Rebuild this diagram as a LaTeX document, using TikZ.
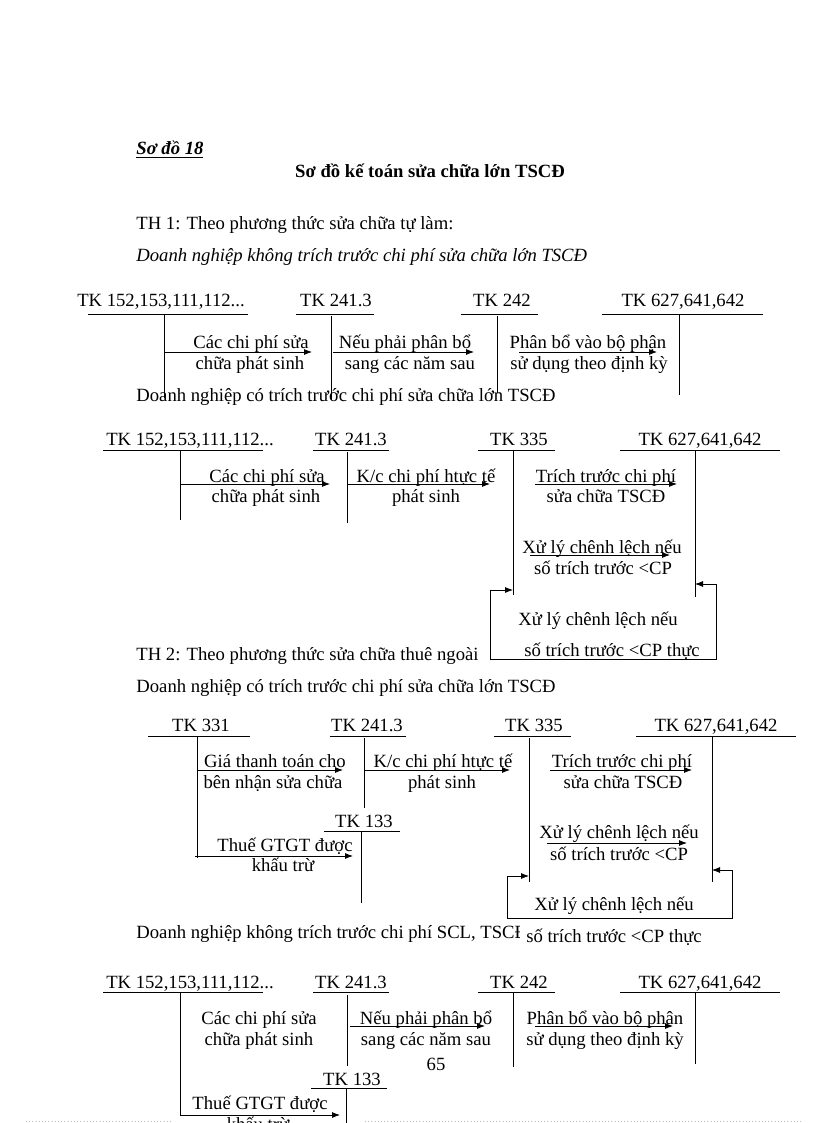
\documentclass[tikz,border=0pt]{standalone}
\usepackage{fontspec}
\setmainfont{Liberation Serif}
\usetikzlibrary{arrows.meta}

\begin{document}
\fontsize{14}{16}\selectfont
\begin{tikzpicture}[x=0.75pt,y=-0.75pt,line width=0.6pt,
    >={Latex[length=6pt,width=4.5pt]},
    lbl/.style={inner sep=0pt,anchor=base},
    lblw/.style={inner sep=0pt,anchor=base west}]
    \path[use as bounding box,fill=white] (0,0) rectangle (816,1123);
    \clip (0,0) rectangle (816,1123);

    % heading
    \node[lblw,font=\bfseries\itshape] (sodo) at (136,155) {\underline{Sơ đồ 18}};
    \node[lbl,font=\bfseries] (title) at (430,178) {Sơ đồ kế toán sửa chữa lớn TSCĐ};
    \node[lblw] (th1) at (136,229) {TH 1: Theo phương thức sửa chữa tự làm:};
    \node[lblw,font=\itshape] (dn1) at (136,261) {Doanh nghiệp không trích trước chi phí sửa chữa lớn TSCĐ};

    % so do 1
    \node[lbl] (tk152a) at (161,306) {TK 152,153,111,112...};
    \node[lbl] (tk2413a) at (336,306) {TK 241.3};
    \node[lbl] (tk242a) at (502,306) {TK 242};
    \node[lbl] (tk627a) at (683,306) {TK 627,641,642};
    \draw (88,314) -- (248,314) (164,314) -- (164,398);
    \draw (296,314) -- (374,314) (331,316) -- (331,400);
    \draw (461,314) -- (538,314) (497,316) -- (497,393);
    \draw (602,314) -- (763,314) (679,314) -- (679,395);
    \coordinate (a1s) at (164,352); \coordinate (a1e) at (312,352);
    \coordinate (a2s) at (333,352); \coordinate (a2e) at (474,352);
    \coordinate (a3s) at (519,352); \coordinate (a3e) at (657,352);
    \draw[->] (a1s) -- (a1e);
    \draw[->] (a2s) -- (a2e);
    \draw[->] (a3s) -- (a3e);
    \node[lbl] (cpa) at (251,348) {Các chi phí sửa};
    \node[lbl] (cpb) at (250,369) {chữa phát sinh};
    \node[lbl] (pba) at (405,348) {Nếu phải phân bổ};
    \node[lbl] (pbb) at (410,369) {sang các năm sau};
    \node[lbl] (bpa) at (588,348) {Phân bổ vào bộ phận};
    \node[lbl] (bpb) at (589,369) {sử dụng theo định kỳ};

    \node[lblw] (dn2) at (136,401) {Doanh nghiệp có trích trước chi phí sửa chữa lớn TSCĐ};

    % so do 2
    \node[lbl] (tk152b) at (190,445) {TK 152,153,111,112...};
    \node[lbl] (tk2413b) at (351,445) {TK 241.3};
    \node[lbl] (tk335b) at (519,445) {TK 335};
    \node[lbl] (tk627b) at (700,445) {TK 627,641,642};
    \draw (103,450) -- (263,450) (180,450) -- (180,520);
    \draw (313,450) -- (389,450) (347,452) -- (347,523);
    \draw (478,450) -- (555,450) (513,450) -- (513,595);
    \draw (620,450) -- (780,450) (695,450) -- (695,597);
    \coordinate (b1s) at (180,484); \coordinate (b1e) at (330,484);
    \coordinate (b2s) at (347,484); \coordinate (b2e) at (490,484);
    \coordinate (b3s) at (535,484); \coordinate (b3e) at (677,484);
    \coordinate (b4s) at (530,555); \coordinate (b4e) at (670,555);
    \draw[->] (b1s) -- (b1e);
    \draw[->] (b2s) -- (b2e);
    \draw[->] (b3s) -- (b3e);
    \draw[->] (b4s) -- (b4e);
    \node[lbl] (cpc) at (267,482) {Các chi phí sửa};
    \node[lbl] (cpd) at (266,502) {chữa phát sinh};
    \node[lbl] (kca) at (426,482) {K/c chi phí htực tế};
    \node[lbl] (kcb) at (426,502) {phát sinh};
    \node[lbl] (tta) at (606,482) {Trích trước chi phí};
    \node[lbl] (ttb) at (606,502) {sửa chữa TSCĐ};
    \node[lbl] (xla) at (602,553) {Xử lý chênh lệch nếu};
    \node[lbl] (xlb) at (603,574) {số trích trước <CP};
    \coordinate (lp2a) at (513,590); \coordinate (lp2b) at (695,584);
    \draw[<->] (lp2a) -- (490,590) -- (490,659) -- (716,659) -- (716,584) -- (lp2b);
    \node[lbl] (xlc) at (598,625) {Xử lý chênh lệch nếu};
    \node[lbl] (xld) at (612,656) {số trích trước <CP thực};

    \node[lblw] (th2) at (136,660) {TH 2: Theo phương thức sửa chữa thuê ngoài};
    \node[lblw] (dn3) at (136,692) {Doanh nghiệp có trích trước chi phí sửa chữa lớn TSCĐ};

    % so do 3
    \node[lbl] (tk331c) at (201,731) {TK 331};
    \node[lbl] (tk2413c) at (367,731) {TK 241.3};
    \node[lbl] (tk335c) at (534,731) {TK 335};
    \node[lbl] (tk627c) at (716,731) {TK 627,641,642};
    \node[lbl] (tk133c) at (364,827) {TK 133};
    \draw (148,736) -- (250,736) (197,736) -- (197,858);
    \draw (330,736) -- (406,736) (364,738) -- (364,808);
    \draw (494,736) -- (571,736) (529,738) -- (529,882);
    \draw (636,736) -- (796,736) (712,736) -- (712,882);
    \draw (324,831) -- (400,831) (361,831) -- (361,903);
    \coordinate (c1s) at (197,770); \coordinate (c1e) at (343,770);
    \coordinate (c2s) at (364,770); \coordinate (c2e) at (510,770);
    \coordinate (c3s) at (550,770); \coordinate (c3e) at (692,770);
    \coordinate (c4s) at (195,856); \coordinate (c4e) at (353,856);
    \coordinate (c5s) at (547,843); \coordinate (c5e) at (687,843);
    \draw[->] (c1s) -- (c1e);
    \draw[->] (c2s) -- (c2e);
    \draw[->] (c3s) -- (c3e);
    \draw[->] (c4s) -- (c4e);
    \draw[->] (c5s) -- (c5e);
    \node[lbl] (gta) at (275,767) {Giá thanh toán cho};
    \node[lbl] (gtb) at (273,788) {bên nhận sửa chữa};
    \node[lbl] (kcc) at (443,767) {K/c chi phí htực tế};
    \node[lbl] (kcd) at (442,788) {phát sinh};
    \node[lbl] (ttc) at (622,767) {Trích trước chi phí};
    \node[lbl] (ttd) at (623,788) {sửa chữa TSCĐ};
    \node[lbl] (vta) at (285,851) {Thuế GTGT được};
    \node[lbl] (vtb) at (283,871) {khấu trừ};
    \node[lbl] (xle) at (619,838) {Xử lý chênh lệch nếu};
    \node[lbl] (xlf) at (619,860) {số trích trước <CP};
    \coordinate (lp3a) at (529,876); \coordinate (lp3b) at (712,870);
    \draw[<->] (lp3a) -- (507,876) -- (507,918) -- (732,918) -- (732,870) -- (lp3b);
    \node[lbl] (xlg) at (614,910) {Xử lý chênh lệch nếu};

    \node[lblw] (dn4) at (136,938) {Doanh nghiệp không trích trước chi phí SCL, TSCĐ};
    \node[lbl,fill=white,inner xsep=5pt,inner ysep=3pt] (xlh) at (614,942) {số trích trước <CP thực};

    % so do 4
    \node[lbl] (tk152d) at (190,988) {TK 152,153,111,112...};
    \node[lbl] (tk2413d) at (351,988) {TK 241.3};
    \node[lbl] (tk242d) at (519,988) {TK 242};
    \node[lbl] (tk627d) at (700,988) {TK 627,641,642};
    \node[lbl] (tk133d) at (352,1085) {TK 133};
    \draw (103,992) -- (263,992) (180,992) -- (180,1115);
    \draw (313,992) -- (389,992) (347,995) -- (347,1066);
    \draw (478,992) -- (555,992) (513,992) -- (513,1067);
    \draw (620,992) -- (780,992) (695,992) -- (695,1064);
    \draw (311,1088) -- (387,1088) (346,1088) -- (346,1130);
    \coordinate (d1s) at (350,1026); \coordinate (d1e) at (485,1026);
    \coordinate (d2s) at (535,1026); \coordinate (d2e) at (673,1026);
    \coordinate (d3s) at (180,1115); \coordinate (d3e) at (340,1115);
    \draw[->] (d1s) -- (d1e);
    \draw[->] (d2s) -- (d2e);
    \draw[->] (d3s) -- (d3e);
    \node[lbl] (cpe) at (259,1024) {Các chi phí sửa};
    \node[lbl] (cpf) at (259,1045) {chữa phát sinh};
    \node[lbl] (pbc) at (426,1024) {Nếu phải phân bổ};
    \node[lbl] (pbd) at (426,1045) {sang các năm sau};
    \node[lbl] (bpc) at (605,1024) {Phân bổ vào bộ phận};
    \node[lbl] (bpd) at (605,1045) {sử dụng theo định kỳ};
    \node[lbl] (trang) at (436,1070) {65};
    \node[lbl] (vtc) at (260,1109) {Thuế GTGT được};
    \node[lbl] (vtd) at (258,1130) {khấu trừ};

    % mep trang
    \draw[gray!50,dotted,line width=0.4pt] (26,1121) -- (172,1121) (365,1121) -- (802,1121);
\end{tikzpicture}
\end{document}
